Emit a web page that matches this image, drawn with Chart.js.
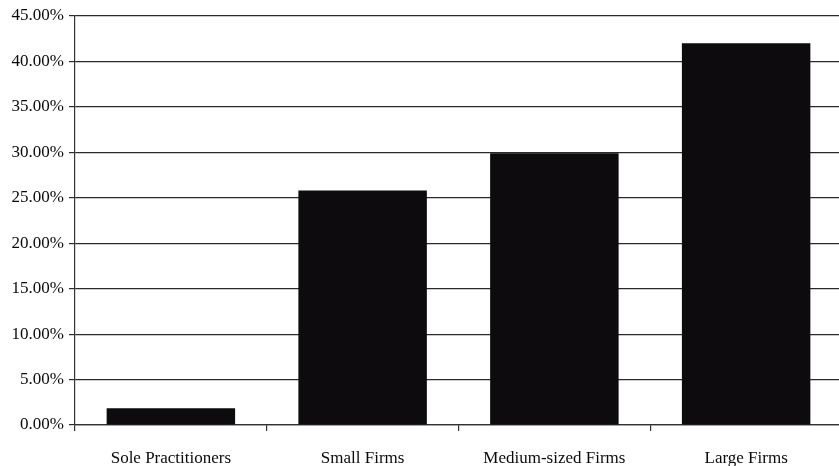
<!DOCTYPE html>
<html>
<head>
<meta charset="utf-8">
<script src="https://cdn.jsdelivr.net/npm/chart.js@4/dist/chart.umd.min.js"></script>
<style>
  html, body { margin: 0; padding: 0; background: #fff; overflow: hidden; }
  #wrap { width: 843px; height: 466px; position: relative; }
</style>
</head>
<body>
<div id="wrap"><canvas id="c"></canvas></div>
<script>
const categories = ["Sole Practitioners", "Small Firms", "Medium-sized Firms", "Large Firms"];
const shares = [1.85, 25.8, 29.9, 42.0];
const yTicks = [0, 5, 10, 15, 20, 25, 30, 35, 40, 45];

const FONT = "'Liberation Serif', 'DejaVu Serif', serif";

new Chart(document.getElementById('c'), {
  type: 'bar',
  data: {
    labels: categories,
    datasets: [{
      data: shares,
      backgroundColor: '#0d0b0e',
      borderWidth: 0,
      barPercentage: 0.67,
      categoryPercentage: 1.0
    }]
  },
  options: {
    responsive: true,
    maintainAspectRatio: false,
    animation: false,
    layout: { padding: { left: 0, right: 1, top: 16, bottom: 0 } },
    plugins: { legend: { display: false }, tooltip: { enabled: false } },
    scales: {
      x: {
        offset: true,
        grid: { display: true, drawOnChartArea: false, drawTicks: true, tickLength: 6, color: '#333', lineWidth: 1.2, offset: true },
        border: { display: true, color: '#333', width: 1.2 },
        ticks: { color: '#0a0a0a', font: { family: FONT, size: 17 }, padding: 17, maxRotation: 0 },
        afterFit: s => { s.height = 41; }
      },
      y: {
        min: 0, max: 45,
        afterBuildTicks: s => { s.ticks = yTicks.map(v => ({ value: v })); },
        grid: { color: '#2a2a2a', lineWidth: 1.2, tickLength: 6, drawTicks: true },
        border: { display: true, color: '#333', width: 1.2 },
        ticks: {
          color: '#0a0a0a', font: { family: FONT, size: 17 }, padding: 5,
          callback: v => v.toFixed(2) + '%'
        },
        afterFit: s => { s.width = 75; }
      }
    }
  }
});
</script>
</body>
</html>
